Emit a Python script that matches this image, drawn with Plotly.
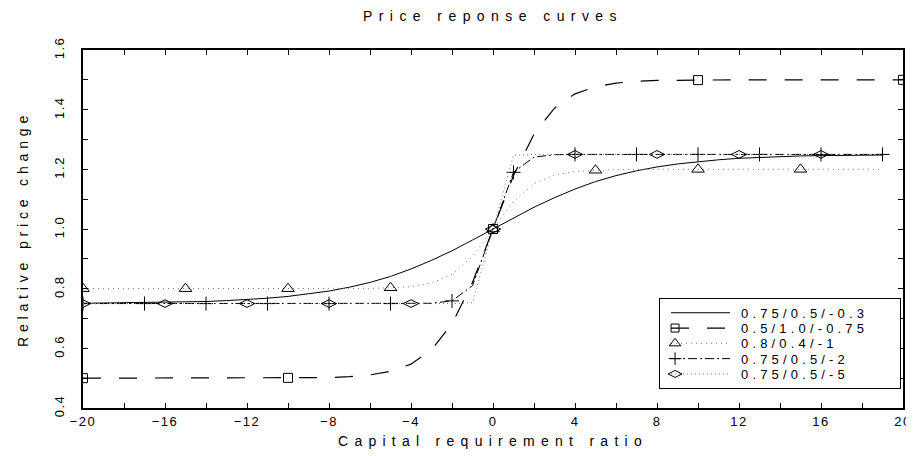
import plotly.graph_objects as go

# ---- data ----
x_main = list(range(-20, 20))          # -20 .. 19
x_sq = list(range(-20, 21))            # -20 .. 20

names = ["0.75/0.5/-0.3", "0.5/1.0/-0.75", "0.8/0.4/-1", "0.75/0.5/-2", "0.75/0.5/-5"]

y_solid = [0.751, 0.752, 0.752, 0.753, 0.754, 0.755, 0.757, 0.760, 0.763, 0.768,
           0.774, 0.782, 0.792, 0.805, 0.821, 0.841, 0.866, 0.895, 0.927, 0.963,
           1.000, 1.037, 1.073, 1.105, 1.134, 1.159, 1.179, 1.195, 1.208, 1.218,
           1.226, 1.232, 1.237, 1.240, 1.243, 1.245, 1.246, 1.247, 1.248, 1.248]

y_square = [0.500, 0.500, 0.500, 0.500, 0.500, 0.500, 0.500, 0.500, 0.500, 0.500,
            0.501, 0.501, 0.502, 0.505, 0.511, 0.523, 0.547, 0.595, 0.682, 0.821,
            1.000,
            1.179, 1.318, 1.405, 1.453, 1.477, 1.489, 1.495, 1.498, 1.499, 1.499,
            1.500, 1.500, 1.500, 1.500, 1.500, 1.500, 1.500, 1.500, 1.500, 1.500]

y_triangle = [0.800, 0.800, 0.800, 0.800, 0.800, 0.800, 0.800, 0.800, 0.800, 0.800,
              0.800, 0.800, 0.800, 0.800, 0.801, 0.803, 0.807, 0.819, 0.848, 0.908,
              1.000, 1.092, 1.152, 1.181, 1.193, 1.197, 1.199, 1.200, 1.200, 1.200,
              1.200, 1.200, 1.200, 1.200, 1.200, 1.200, 1.200, 1.200, 1.200, 1.200]

y_plus = [0.750, 0.750, 0.750, 0.750, 0.750, 0.750, 0.750, 0.750, 0.750, 0.750,
          0.750, 0.750, 0.750, 0.750, 0.750, 0.750, 0.750, 0.751, 0.759, 0.810,
          1.000, 1.190, 1.241, 1.249, 1.250, 1.250, 1.250, 1.250, 1.250, 1.250,
          1.250, 1.250, 1.250, 1.250, 1.250, 1.250, 1.250, 1.250, 1.250, 1.250]

y_diamond = [0.750, 0.750, 0.750, 0.750, 0.750, 0.750, 0.750, 0.750, 0.750, 0.750,
             0.750, 0.750, 0.750, 0.750, 0.750, 0.750, 0.750, 0.750, 0.750, 0.753,
             1.000, 1.247, 1.250, 1.250, 1.250, 1.250, 1.250, 1.250, 1.250, 1.250,
             1.250, 1.250, 1.250, 1.250, 1.250, 1.250, 1.250, 1.250, 1.250, 1.250]

x_ticks = [-20, -16, -12, -8, -4, 0, 4, 8, 12, 16, 20]
y_ticks = [0.4, 0.6, 0.8, 1.0, 1.2, 1.4, 1.6]

title = "Price reponse curves"
x_title = "Capital requirement ratio"
y_title = "Relative price change"

# ---- styles ----
series = [
    dict(x=x_main, y=y_solid, dash="solid", width=1.0, color="black", symbol=None, step=None),
    dict(x=x_sq, y=y_square, dash="18px,18px", width=1.2, color="black", symbol="square-open", step=10, size=9),
    dict(x=x_main, y=y_triangle, dash="1px,4px", width=1.0, color="#777", symbol="triangle-up-open", step=5, size=11),
    dict(x=x_main, y=y_plus, dash="9px,3px,2px,3px", width=1.0, color="black", symbol="cross-thin-open", step=3, size=10),
    dict(x=x_main, y=y_diamond, dash="1px,3px", width=1.0, color="#777", symbol="diamond-wide-open", step=4, size=11),
]

FONT = "Liberation Sans"
fig = go.Figure()

for name, s in zip(names, series):
    fig.add_trace(go.Scatter(x=s["x"], y=s["y"], mode="lines", showlegend=False,
                             line=dict(color=s["color"], width=s["width"], dash=s["dash"]),
                             hoverinfo="skip"))
    if s["symbol"]:
        st = s["step"]
        fig.add_trace(go.Scatter(x=s["x"][::st], y=s["y"][::st], mode="markers", showlegend=False,
                                 marker=dict(symbol=s["symbol"], size=s["size"], color="black",
                                             line=dict(color="black", width=1)),
                                 hoverinfo="skip"))
    leg = dict(x=[None], y=[None], name=name, showlegend=True,
               line=dict(color=s["color"], width=s["width"], dash=s["dash"]))
    if s["symbol"]:
        leg["mode"] = "lines+markers"
        leg["marker"] = dict(symbol=s["symbol"], size=s["size"] - 1, color="black",
                             line=dict(color="black", width=1))
    else:
        leg["mode"] = "lines"
    fig.add_trace(go.Scatter(**leg))

axis_common = dict(showline=True, linewidth=2, linecolor="black", mirror="ticks",
                   ticks="inside", ticklen=5, tickwidth=1, tickcolor="black",
                   showgrid=False, zeroline=False,
                   tickfont=dict(family=FONT, size=13, color="black"))

fig.update_xaxes(range=[-20, 20], tickvals=x_ticks,
                 ticktext=[("\u2212" + str(-v)) if v < 0 else str(v) for v in x_ticks],
                 minor=dict(dtick=2, tick0=0, ticks="inside", ticklen=5, tickcolor="black"),
                 title=dict(text=x_title, font=dict(family=FONT, size=14, color="black"), standoff=9),
                 **axis_common)
fig.update_yaxes(range=[0.4, 1.6], tickvals=y_ticks, ticktext=[f"{v:.1f}" for v in y_ticks],
                 tickangle=-90, ticklabelstandoff=12,
                 minor=dict(dtick=0.1, tick0=0.4, ticks="inside", ticklen=5, tickcolor="black"),
                 title=dict(text=y_title, font=dict(family=FONT, size=14, color="black"), standoff=20),
                 **axis_common)

fig.update_layout(
    width=914, height=456,
    margin=dict(l=75, r=12, t=42, b=56),
    paper_bgcolor="white", plot_bgcolor="white",
    title=dict(text=title, x=0.5, xref="paper", xanchor="center", y=0.992, yref="container",
               yanchor="top", font=dict(family=FONT, size=14, color="black")),
    legend=dict(x=0.7025, y=0.308, xanchor="left", yanchor="top",
                bgcolor="white", bordercolor="black", borderwidth=1,
                font=dict(family=FONT, size=13, color="black"),
                tracegroupgap=0, itemwidth=40),
    showlegend=True,
)

# post-render tweaks: spaced-out lettering and a legend laid out like the reference
post = """
var gd = document.getElementById('{plot_id}');
function fit(el, target) {
  if (!el) return 0;
  el.style.letterSpacing = '0px';
  var w = el.getComputedTextLength();
  var n = el.textContent.length;
  var s = Math.max(0, (target - w) / n);
  el.style.letterSpacing = s + 'px';
  return s;
}
fit(gd.querySelector('.gtitle'), 260);
fit(gd.querySelector('.xtitle'), 310);
fit(gd.querySelector('.ytitle'), 236);
var lt = gd.querySelectorAll('.legendtext');
var s = fit(lt[0], 127);
lt.forEach(function(t) { t.style.letterSpacing = s + 'px'; });
gd.querySelectorAll('.xtick text, .ytick text').forEach(function(t) { t.style.letterSpacing = '1.5px'; });
var W = 241, H = 90, GAP = 15.3, FIRST = 15;
var bg = gd.querySelector('.legend rect.bg');
if (bg) { bg.setAttribute('width', W); bg.setAttribute('height', H); }
document.querySelectorAll('clipPath[id^="legend"] rect').forEach(function(r) {
  r.setAttribute('width', W); r.setAttribute('height', H);
});
gd.querySelectorAll('.legend g.traces').forEach(function(g, i) {
  var tr = g.getAttribute('transform') || '';
  var m = tr.match(/translate\\(([-\\d.]+)[ ,]+([-\\d.]+)\\)/);
  var x0 = m ? parseFloat(m[1]) : 1;
  g.setAttribute('transform', 'translate(' + x0 + ',' + (FIRST + i * GAP) + ')');
  g.querySelectorAll('.legendlines path').forEach(function(p) { p.setAttribute('d', 'M11,0h59'); });
  g.querySelectorAll('.legendpoints path').forEach(function(p) { p.setAttribute('transform', 'translate(15,0)'); });
  var t = g.querySelector('.legendtext');
  if (t) { t.setAttribute('x', 81); }
});
"""

fig.write_html("out.html", post_script=post)
